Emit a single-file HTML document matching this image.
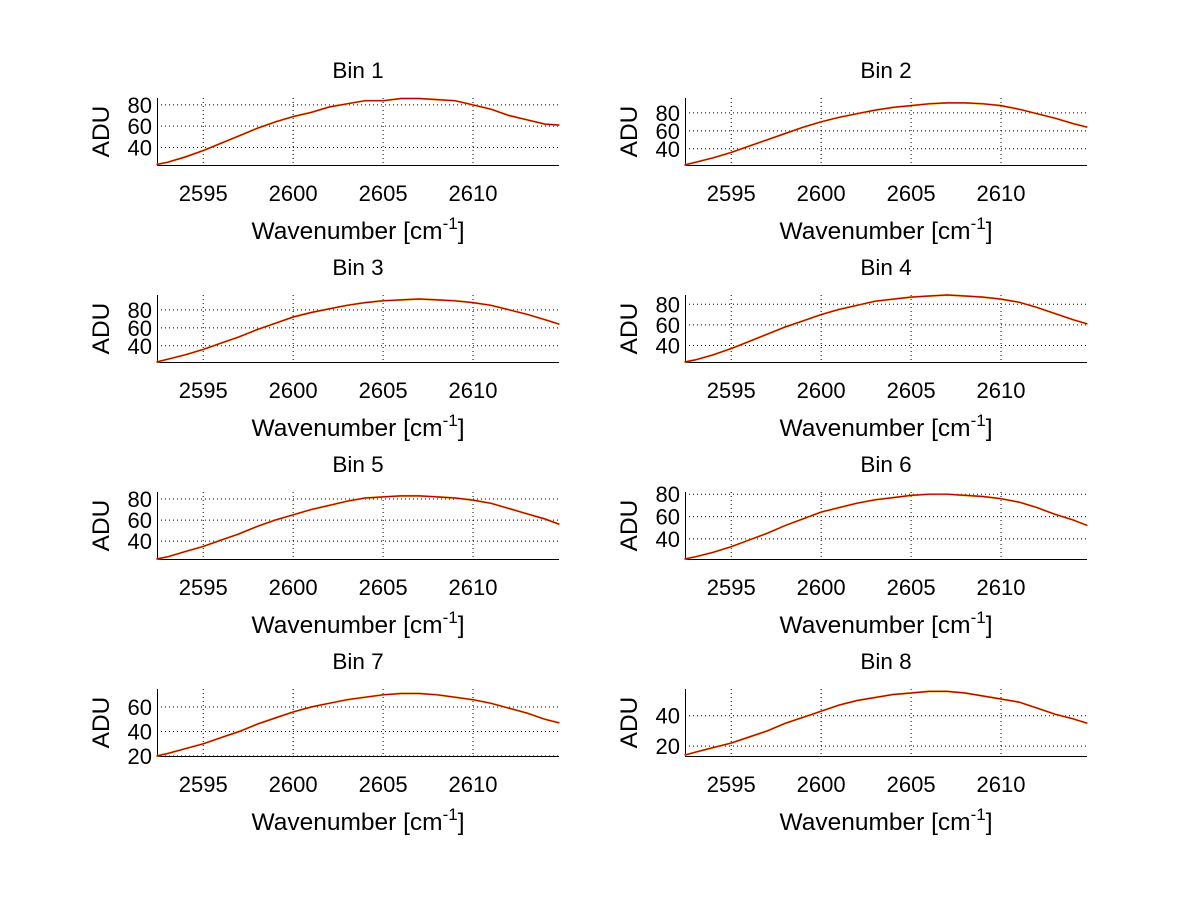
<!DOCTYPE html>
<html><head><meta charset="utf-8"><style>
body{margin:0;background:#fff}
svg{display:block;font-family:"Liberation Sans",sans-serif}
</style></head><body>
<svg id="fig" width="1200" height="901" viewBox="0 0 1200 901"></svg>
<script>
const wavenumbers=[2592.4,2593,2594,2595,2596,2597,2598,2599,2600,2601,2602,2603,2604,2605,2606,2607,2608,2609,2610,2611,2612,2613,2614,2614.8];
const xTicks=[2595,2600,2605,2610];
const bin1=[24,26,31,37,44,51,58,64,69,73,78,81,84,84,86,86,85,84,80,76,70,66,62,61];
const bin2=[22,25,30,36,43,50,57,64,70,75,79,83,86,88,90,91,91,90,88,84,79,74,68,64];
const bin3=[22,25,30,36,43,50,58,65,72,77,81,85,88,90,91,92,91,90,88,85,80,75,69,64];
const bin4=[24,26,31,37,44,51,58,64,70,75,79,83,85,87,88,89,88,87,85,82,77,71,65,61];
const bin5=[23,25,30,35,41,47,54,60,65,70,74,78,81,82,83,83,82,81,79,76,71,66,61,56];
const bin6=[22,24,28,33,39,45,52,58,64,68,72,75,77,79,80,80,79,78,76,73,68,62,57,52];
const bin7=[20,22,26,30,35,40,46,51,56,60,63,66,68,70,71,71,70,68,66,63,59,55,50,47];
const bin8=[14,16,19,22,26,30,35,39,43,47,50,52,54,55,56,56,55,53,51,49,45,41,38,35];
const yMins=[23.5,22,22,24,23,22,20,13.5];
const yMaxs=[86.5,96.5,96.5,89,86.7,82,74.7,57.6];
const yTicksList=[[40,60,80],[40,60,80],[40,60,80],[40,60,80],[40,60,80],[40,60,80],[20,40,60],[20,40]];
const series=[bin1,bin2,bin3,bin4,bin5,bin6,bin7,bin8];

const NS="http://www.w3.org/2000/svg";
const svg=document.getElementById('fig');
function mk(tag,attrs,parent,text){const e=document.createElementNS(NS,tag);for(const k in attrs)e.setAttribute(k,attrs[k]);if(text!==undefined)e.textContent=text;parent.appendChild(e);return e;}
const X0=2592.43,X1=2614.78;
for(let i=0;i<8;i++){
  const col=i%2,row=Math.floor(i/2);
  const L=157+col*528,R=559+col*528,T=98+row*197,B=165+row*197;
  const sx=v=>L+(v-X0)/(X1-X0)*(R-L);
  const sy=v=>B-(v-yMins[i])/(yMaxs[i]-yMins[i])*(B-T);
  const g=mk('g',{},svg);
  
  
  const t=mk('text',{x:(L+R)/2,y:T-20,'text-anchor':'middle','font-size':22.5},g,'Bin '+(i+1));
  
  
  xTicks.forEach(v=>{
    const x=sx(v);
    const gl=mk('line',{x1:x,x2:x,y1:T,y2:B,stroke:'#000','stroke-width':1,'stroke-dasharray':'1,3'},g);
    
    
    const tl=mk('text',{x:x,y:B+36,'text-anchor':'middle','font-size':22},g,String(v));
    
    
  });
  yTicksList[i].forEach(v=>{
    const y=sy(v);
    const gl=mk('line',{x1:L,x2:R,y1:y,y2:y,stroke:'#000','stroke-width':1,'stroke-dasharray':'1,3'},g);
    
    
    const tl=mk('text',{x:L-5,y:y+8,'text-anchor':'end','font-size':22},g,String(v));
    
    
  });
  const ax=mk('path',{d:`M${L+0.5},${T}V${B+0.5}H${R}`,fill:'none',stroke:'#000','stroke-width':1},g);
  
  
  const pts=series[i].map((v,j)=>sx(wavenumbers[j]).toFixed(1)+','+sy(v).toFixed(1)).join(' ');
  const l1=mk('polyline',{points:pts,fill:'none',stroke:'#f0a000','stroke-width':2},g);
  
  
  const l2=mk('polyline',{points:pts,fill:'none',stroke:'#b00010','stroke-width':1.2},g);
  
  
  const xl=mk('text',{x:(L+R)/2,y:B+74,'text-anchor':'middle','font-size':24.5},g);
  
  
  xl.innerHTML='Wavenumber [cm<tspan dy="-10" font-size="17">-1</tspan><tspan dy="10">]</tspan>';
  const yl=mk('text',{x:0,y:0,'text-anchor':'middle','font-size':24.5,transform:`translate(${L-48},${(T+B)/2}) rotate(-90)`},g,'ADU');
  
  
}
</script>
</body></html>
